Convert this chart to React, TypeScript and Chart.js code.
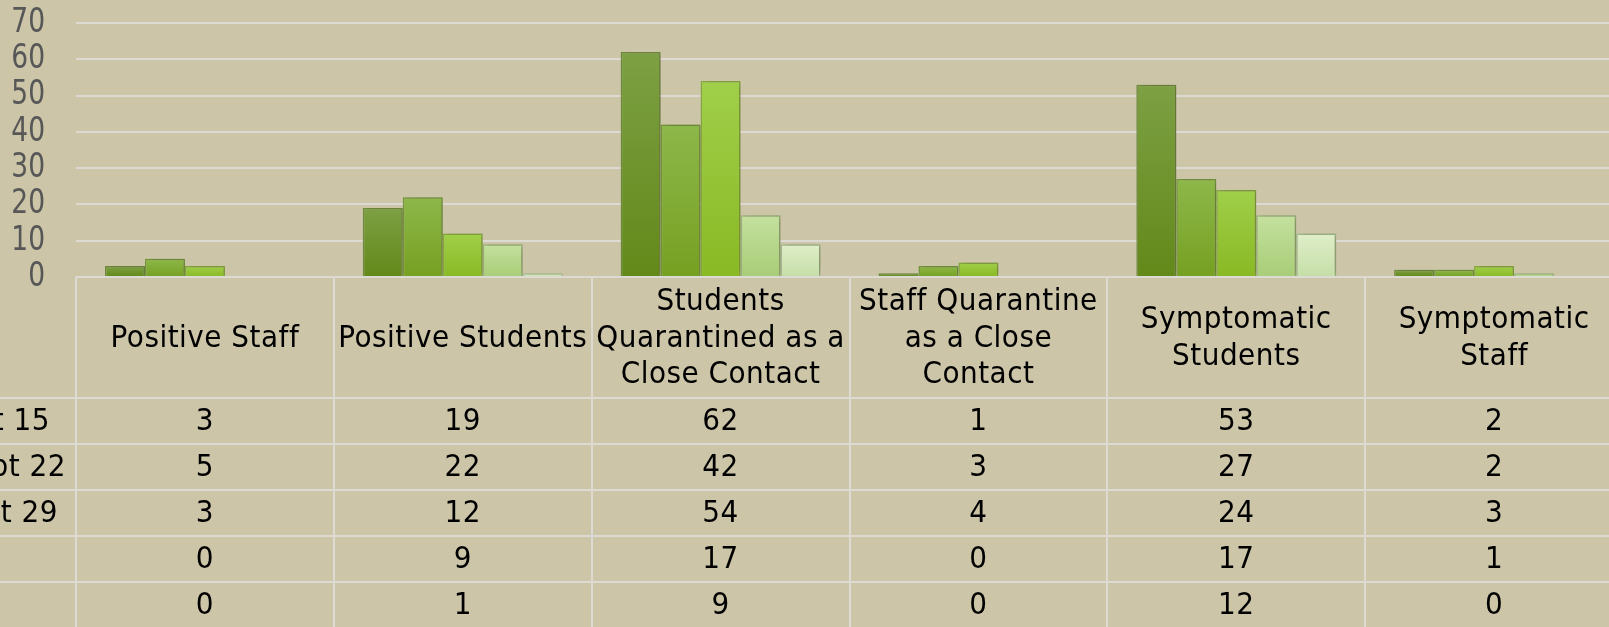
import React, { useEffect, useRef } from "react";
import { Chart, registerables } from "chart.js";

Chart.register(...registerables);

// ---------- data ----------
const categories: string[][] = [
  ["Positive Staff"],
  ["Positive Students"],
  ["Students", "Quarantined as a", "Close Contact"],
  ["Staff Quarantine", "as a Close", "Contact"],
  ["Symptomatic", "Students"],
  ["Symptomatic", "Staff"],
];
const seriesLabels = ["Sept 15", "Sept 22", "Sept 29", "", ""];
const sept15 = [3, 19, 62, 1, 53, 2];
const sept22 = [5, 22, 42, 3, 27, 2];
const sept29 = [3, 12, 54, 4, 24, 3];
const series4 = [0, 9, 17, 0, 17, 1];
const series5 = [0, 1, 9, 0, 12, 0];
const seriesValues = [sept15, sept22, sept29, series4, series5];
const yMin = 0;
const yMax = 70;
const yStep = 10;

// ---------- style ----------
const BG = "#CCC5A8";
const GRID = "#DCDAD2";
const gradTop = ["#7CA043", "#8DB84A", "#A0CF4A", "#C4E09E", "#DFEEC9"];
const gradBottom = ["#63891A", "#76A021", "#89B923", "#A8CD77", "#C5DEA7"];
const borders = ["#6E8C3D", "#73983A", "#86AC3C", "#9CB67F", "#A6BE92"];
const TABLE_FONT = "'DejaVu Sans Condensed', 'DejaVu Sans', sans-serif";
const TICK_FONT = "'DejaVu Sans', sans-serif";
const CANVAS_W = 1640;
const CANVAS_H = 627;
const PLOT_LEFT = 76;
const PLOT_RIGHT = 1623;
const PLOT_TOP = 23;
const PLOT_BOTTOM = 277;
const HEADER_BOTTOM = 398;
const ROW_H = 46;
const LINE_H = 36.5;
const TICK_RIGHT = 45;
const rowLabelRight = [50, 66, 58, 58, 58];

const tablePlugin = {
  id: "dataTable",
  beforeDatasetsDraw(chart: any) {
    const ctx = chart.ctx;
    ctx.save();
    ctx.shadowColor = "rgba(60,50,20,0.35)";
    ctx.shadowBlur = 7;
    ctx.shadowOffsetX = 3;
    ctx.shadowOffsetY = 0;
  },
  afterDatasetsDraw(chart: any) {
    chart.ctx.restore();
  },
  afterDraw(chart: any) {
    const ctx = chart.ctx;
    const xs = chart.scales.x;
    const ys = chart.scales.y;
    const n = categories.length;
    const colW = (xs.right - xs.left) / n;
    ctx.save();
    // y tick labels (narrow)
    ctx.fillStyle = "#575757";
    ctx.font = `34px ${TICK_FONT}`;
    ctx.textAlign = "right";
    ctx.textBaseline = "middle";
    ys.ticks.forEach((t: any) => {
      const y = ys.getPixelForValue(t.value);
      ctx.save();
      ctx.translate(TICK_RIGHT, y);
      ctx.scale(0.78, 1);
      ctx.fillText(String(t.value), 0, 0);
      ctx.restore();
    });
    ctx.strokeStyle = GRID;
    ctx.lineWidth = 2;
    // vertical lines
    for (let i = 0; i <= n; i++) {
      const x = Math.round(xs.left + i * colW);
      ctx.beginPath();
      ctx.moveTo(x, PLOT_BOTTOM);
      ctx.lineTo(x, CANVAS_H);
      ctx.stroke();
    }
    // horizontal lines
    for (let r = 0; r <= seriesValues.length; r++) {
      const y = HEADER_BOTTOM + r * ROW_H;
      ctx.beginPath();
      ctx.moveTo(0, y);
      ctx.lineTo(CANVAS_W, y);
      ctx.stroke();
    }
    ctx.fillStyle = "#000000";
    ctx.font = `31px ${TABLE_FONT}`;
    (ctx as any).letterSpacing = "0.5px";
    ctx.textAlign = "center";
    ctx.textBaseline = "middle";
    const headMid = (PLOT_BOTTOM + HEADER_BOTTOM) / 2;
    categories.forEach((lines, i) => {
      const cx = xs.getPixelForValue(i);
      const start = headMid - ((lines.length - 1) * LINE_H) / 2;
      lines.forEach((ln, j) => ctx.fillText(ln, cx, start + j * LINE_H + 1));
    });
    seriesValues.forEach((vals, r) => {
      const cy = HEADER_BOTTOM + r * ROW_H + ROW_H / 2 + 1;
      vals.forEach((v, i) => {
        ctx.fillText(String(v), xs.getPixelForValue(i), cy);
      });
    });
    ctx.textAlign = "right";
    seriesLabels.forEach((lbl, r) => {
      const cy = HEADER_BOTTOM + r * ROW_H + ROW_H / 2 + 1;
      if (lbl) ctx.fillText(lbl, rowLabelRight[r], cy);
    });
    (ctx as any).letterSpacing = "0px";
    ctx.restore();
  },
};

export default function App() {
  const ref = useRef<HTMLCanvasElement | null>(null);
  useEffect(() => {
    const canvas = ref.current!;
    const makeBg = (s: number) => (c: any) => {
      const chart = c.chart;
      const y = chart.scales && chart.scales.y;
      if (!y || c.type !== "data" || typeof c.raw !== "number") return gradBottom[s];
      const top = y.getPixelForValue(c.raw);
      const bot = y.getPixelForValue(0);
      if (!isFinite(top) || !isFinite(bot) || Math.abs(bot - top) < 1) return gradBottom[s];
      const g = chart.ctx.createLinearGradient(0, top, 0, bot);
      g.addColorStop(0, gradTop[s]);
      g.addColorStop(1, gradBottom[s]);
      return g;
    };
    const chart = new Chart(canvas, {
      type: "bar",
      data: {
        labels: categories.map((c) => c.join(" ")),
        datasets: seriesValues.map((vals, s) => ({
          label: seriesLabels[s] || `Series ${s + 1}`,
          data: vals,
          backgroundColor: makeBg(s),
          borderColor: borders[s],
          borderWidth: (c: any) => (c.raw === 0 ? 0 : 1.5),
          borderSkipped: "bottom",
          barPercentage: 1,
          categoryPercentage: 0.775,
        })),
      },
      options: {
        responsive: false,
        animation: false,
        events: [],
        layout: {
          padding: {
            top: PLOT_TOP,
            bottom: CANVAS_H - PLOT_BOTTOM,
            left: 0,
            right: CANVAS_W - PLOT_RIGHT,
          },
        },
        plugins: {
          legend: { display: false },
          tooltip: { enabled: false },
          title: { display: false },
        },
        scales: {
          x: {
            display: false,
            offset: true,
          },
          y: {
            min: yMin,
            max: yMax,
            border: { display: false },
            grid: { color: GRID, lineWidth: 2, drawTicks: false },
            ticks: {
              stepSize: yStep,
              display: false,
            },
            afterFit: (scale: any) => {
              scale.width = PLOT_LEFT;
              scale.paddingTop = 0;
              scale.paddingBottom = 0;
            },
          },
        },
      },
      plugins: [tablePlugin],
    });
    return () => chart.destroy();
  }, []);
  return (
    <div
      style={{
        position: "fixed",
        left: 0,
        top: 0,
        width: 1609,
        height: 627,
        overflow: "hidden",
        background: BG,
      }}
    >
      <canvas
        ref={ref}
        width={CANVAS_W}
        height={CANVAS_H}
        style={{ display: "block", width: CANVAS_W, height: CANVAS_H }}
      />
    </div>
  );
}
